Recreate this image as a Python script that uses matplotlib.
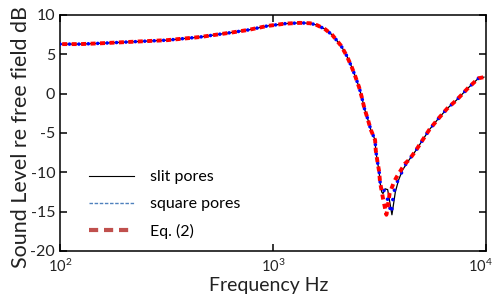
import matplotlib
matplotlib.use('Agg')
import matplotlib.pyplot as plt
import matplotlib.transforms as mtransforms
from matplotlib.lines import Line2D
import numpy as np

plt.rcParams['font.family'] = ['Lato', 'DejaVu Sans']
plt.rcParams['axes.unicode_minus'] = False
plt.rcParams['mathtext.fontset'] = 'custom'
plt.rcParams['mathtext.rm'] = 'Lato'

# shared part of the curves: log10(frequency), level in dB
common_logf = [2.000, 2.094, 2.188, 2.343, 2.502, 2.657, 2.812, 2.883, 2.972, 3.056,
               3.127, 3.174, 3.207, 3.244, 3.278, 3.319, 3.346, 3.369, 3.386, 3.404,
               3.416, 3.429, 3.443, 3.459, 3.479, 3.482, 3.490, 3.498, 3.502]
common_db = [6.3, 6.3, 6.4, 6.6, 6.8, 7.2, 7.8, 8.1, 8.6, 8.9,
             9.0, 8.95, 8.7, 8.2, 7.46, 6.1, 4.8, 3.4, 2.2, 0.8,
             -0.4, -1.9, -3.1, -4.6, -5.9, -7.2, -8.65, -9.9, -11.2]

# high-frequency tail shared by all three
tail_logf = [3.639, 3.671, 3.702, 3.733, 3.772, 3.817, 3.862, 3.914, 3.964, 3.99]
tail_db = [-8.4, -7.2, -5.9, -4.6, -3.3, -1.9, -0.8, 0.68, 1.95, 2.1]

# dip region for each model
slit_logf = [3.510, 3.516, 3.526, 3.538, 3.558, 3.574, 3.589, 3.608]
slit_db = [-12.5, -12.7, -12.1, -12.2, -15.4, -12.5, -11.0, -9.7]
square_logf = [3.516, 3.535, 3.548, 3.556, 3.561, 3.567, 3.586, 3.608, 3.624]
square_db = [-12.0, -13.2, -14.5, -15.2, -13.7, -12.5, -11.0, -9.8, -8.9]
eq2_logf = [3.516, 3.532, 3.543, 3.547, 3.568, 3.580, 3.619]
eq2_db = [-13.3, -15.4, -13.5, -12.7, -11.2, -10.6, -8.9]


def curve(dip_logf, dip_db):
    lf = np.array(common_logf + dip_logf + tail_logf)
    db = np.array(common_db + dip_db + tail_db)
    return 10 ** lf, db


fig = plt.figure(figsize=(4.92, 2.97), dpi=100)
ax = fig.add_axes([0.122, 0.155, 0.866, 0.7945])

f, db = curve(slit_logf, slit_db)
ax.plot(f, db, color='black', lw=0.9, zorder=2)
f, db = curve(square_logf, square_db)
ax.plot(f, db, color='#0000ff', lw=2.6, linestyle=(0, (0.01, 2.6)),
        dash_capstyle='round', zorder=3)
f, db = curve(eq2_logf, eq2_db)
ax.plot(f, db, color='#ff0000', lw=2.8, linestyle=(1.87, (1.3, 1.13)),
        dash_capstyle='butt', zorder=4)

ax.set_xscale('log')
ax.set_xlim(100, 10000)
ax.set_ylim(-20, 10)
ax.set_xticks([100, 1000, 10000])
ax.set_xticklabels([r'$\mathregular{10^2}$', r'$\mathregular{10^3}$', r'$\mathregular{10^4}$'])
ax.minorticks_off()
ax.set_yticks([10, 5, 0, -5, -10, -15, -20])
ax.tick_params(direction='in', length=5, width=1.1, labelsize=11.5,
               top=True, right=True, labelcolor='#222222')
ax.tick_params(axis='x', pad=5, labelsize=10.5)
last = ax.get_xticklabels()[-1]
last.set_transform(last.get_transform() +
                   mtransforms.ScaledTranslation(-6 / 100, 0, fig.dpi_scale_trans))
for s in ax.spines.values():
    s.set_linewidth(1.1)

ax.set_xlabel('Frequency Hz', fontsize=14, color='#222222', va='baseline')
ax.xaxis.set_label_coords(0.49, -0.17)
ax.set_ylabel('Sound Level re free field dB', fontsize=15.5, color='#222222', va='baseline')
ax.yaxis.set_label_coords(-0.078, 0.485)

handles = [
    Line2D([], [], color='black', lw=0.8),
    Line2D([], [], color='#4f81bd', lw=1.0, linestyle=(0, (2.5, 1.2))),
    Line2D([], [], color='#c0504d', lw=3.0, linestyle=(0, (2.2, 1.4))),
]
ax.legend(handles, ['slit pores', 'square pores', 'Eq. (2)'], loc='lower left',
          bbox_to_anchor=(0.035, -0.01), frameon=False, fontsize=11.5,
          handlelength=2.8, handletextpad=1.0, labelspacing=0.8)

fig.savefig('out.png', dpi=100)
